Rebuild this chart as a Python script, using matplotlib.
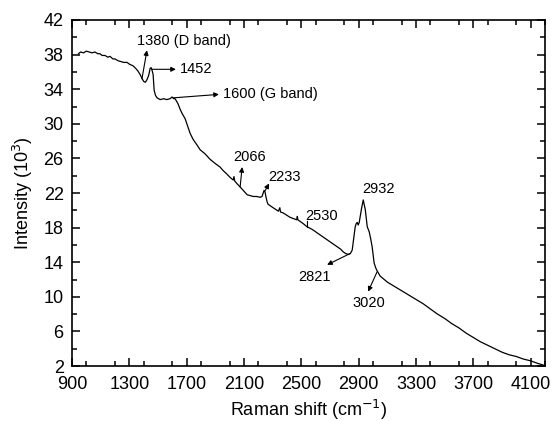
import matplotlib
matplotlib.use("Agg")
import matplotlib.pyplot as plt
from matplotlib.ticker import MultipleLocator

plt.rcParams["font.family"] = ["Liberation Sans", "DejaVu Sans"]

# Raman spectrum, intensity in units of 10^3 counts
shift = [
    945, 960, 980, 1000, 1020, 1040, 1060, 1080, 1095, 1110, 1130, 1150,
    1165, 1185, 1200, 1220, 1240, 1260, 1284, 1300, 1326, 1345, 1360, 1375,
    1390, 1400, 1412, 1423, 1435, 1445, 1452, 1460, 1466, 1473, 1482, 1494,
    1515, 1540, 1560, 1584, 1598, 1610, 1619, 1630, 1640, 1654, 1668, 1689,
    1710, 1724, 1745, 1770, 1794, 1830, 1863, 1900, 1933, 1954, 1980, 2003,
    2025, 2030, 2035, 2050, 2073, 2100, 2122, 2143, 2164, 2190, 2212, 2226,
    2240, 2247, 2254, 2261, 2268, 2285, 2303, 2340, 2350, 2355, 2373, 2420,
    2468, 2472, 2476, 2510, 2540, 2575, 2610, 2645, 2680, 2715, 2750, 2775,
    2792, 2810, 2827, 2842, 2855, 2862, 2869, 2876, 2884, 2890, 2897, 2904,
    2911, 2920, 2932, 2940, 2946, 2953, 2960, 2967, 2974, 2984, 2994, 3008,
    3020, 3029, 3050, 3100, 3150, 3200, 3250, 3300, 3350, 3400, 3450, 3500,
    3550, 3600, 3650, 3700, 3750, 3800, 3850, 3900, 3950, 4000, 4050, 4100,
    4150, 4190,
]
intensity = [
    38.1, 38.3, 38.2, 38.4, 38.3, 38.2, 38.3, 38.1, 38.1, 37.9, 37.9, 37.7,
    37.8, 37.5, 37.5, 37.3, 37.2, 37.1, 37.1, 36.9, 36.7, 36.4, 36.1, 35.7,
    35.2, 34.9, 34.8, 35.1, 35.6, 36.4, 36.5, 36.1, 35.7, 33.9, 33.3, 33.0,
    32.8, 32.9, 32.8, 32.9, 33.1, 32.9, 32.9, 32.6, 32.3, 31.7, 31.2, 30.6,
    29.6, 28.9, 28.2, 27.6, 27.0, 26.5, 25.9, 25.4, 25.0, 24.6, 24.2, 23.8,
    23.5, 23.9, 23.4, 23.1, 22.7, 22.2, 21.8, 21.7, 21.6, 21.6, 21.5, 21.6,
    22.3, 22.1, 21.5, 21.0, 20.7, 20.5, 20.3, 19.9, 20.3, 19.8, 19.7, 19.2,
    18.9, 19.3, 18.9, 18.5, 18.1, 17.8, 17.4, 17.0, 16.6, 16.2, 15.8, 15.5,
    15.2, 15.0, 14.9, 15.0, 15.4, 16.3, 17.2, 18.1, 18.5, 18.6, 18.3, 18.6,
    19.3, 20.2, 21.2, 20.6, 20.1, 19.1, 18.1, 17.8, 17.5, 16.7, 15.8, 13.9,
    13.3, 13.0, 12.4, 11.7, 11.2, 10.7, 10.2, 9.7, 9.2, 8.6, 8.0, 7.5,
    6.9, 6.4, 5.8, 5.3, 4.8, 4.4, 4.0, 3.6, 3.3, 3.1, 2.8, 2.6,
    2.3, 2.1,
]

# Peak labels: text, text anchor (left, middle), arrow tail on the curve, arrow head
peak_labels = ["1380 (D band)", "1452", "1600 (G band)", "2066", "2233",
               "2530", "2932", "2821", "3020"]
label_pos = [(1354, 39.6), (1654, 36.3), (1954, 33.4), (2024, 26.2),
             (2268, 23.9), (2526, 19.3), (2924, 22.5), (2478, 12.3),
             (2855, 9.3)]
arrow_tail = [(1388, 35.2), (1458, 36.3), (1605, 33.0), (2073, 22.7),
              (2245, 22.2), (2540, 18.1), None, (2840, 15.0), (3029, 12.9)]
arrow_head = [(1423, 38.5), (1625, 36.3), (1925, 33.4), (2087, 25.0),
              (2275, 23.1), (2540, 18.8), None, (2680, 13.7), (2966, 10.6)]

fig = plt.figure(figsize=(5.53, 4.21), dpi=100)
ax = fig.add_axes([0.1302, 0.1306, 0.8553, 0.8219])

ax.plot(shift, intensity, color="black", lw=0.9)

for text, pos, tail, head in zip(peak_labels, label_pos, arrow_tail, arrow_head):
    ax.text(pos[0], pos[1], text, fontsize=10.5, ha="left", va="center")
    if tail is None:
        continue
    if text == "2530":
        ax.plot([tail[0], head[0]], [tail[1], head[1]], color="black", lw=0.8)
    else:
        ax.annotate("", xy=head, xytext=tail,
                    arrowprops=dict(arrowstyle="-|>", color="black", lw=0.8,
                                    mutation_scale=7, shrinkA=0, shrinkB=0))

ax.set_xlim(900, 4200)
ax.set_ylim(2, 42)
ax.xaxis.set_minor_locator(MultipleLocator(200))
ax.yaxis.set_minor_locator(MultipleLocator(2))
ax.set_xticks(range(900, 4101, 400))
ax.set_yticks(range(2, 43, 4))

ax.tick_params(which="both", direction="in", top=True, right=True,
               labelsize=13, width=1.1)
ax.tick_params(which="major", length=6)
ax.tick_params(which="minor", length=3.5)
ax.tick_params(axis="x", which="major", pad=7)
ax.tick_params(axis="y", which="major", pad=6)
for spine in ax.spines.values():
    spine.set_linewidth(1.2)

ax.set_xlabel("Raman shift (cm$^{-1}$)", fontsize=13, labelpad=4)
ax.set_ylabel("Intensity (10$^3$)", fontsize=13, labelpad=6)

fig.savefig("out.png", dpi=100)
